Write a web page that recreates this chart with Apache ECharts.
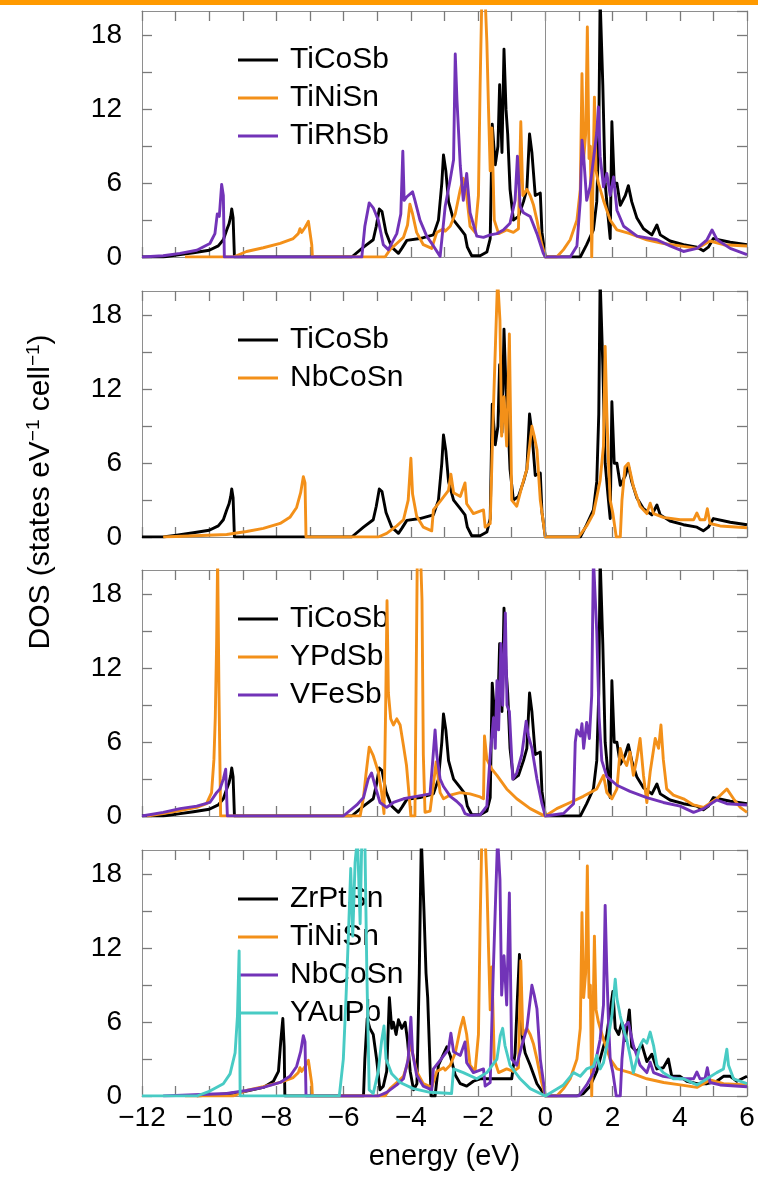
<!DOCTYPE html>
<html><head><meta charset="utf-8">
<script src="https://cdn.jsdelivr.net/npm/echarts@6/dist/echarts.min.js"></script>
<style>html,body{margin:0;padding:0;background:#fff;}#c{width:758px;height:1181px;}</style>
</head><body><div id="c"></div>
<script>
// ---- data: [energy (eV), DOS] ----
const TiCoSb = [[-12,0],[-11.37,0],[-10.97,0.15],[-10.47,0.35],[-10.0,0.55],[-9.73,0.9],[-9.58,1.4],[-9.48,2.2],[-9.41,2.7],[-9.36,3.3],[-9.33,3.9],[-9.29,3.2],[-9.25,0],[-5.76,0],[-5.41,0.8],[-5.12,1.4],[-5.03,2.5],[-4.94,3.9],[-4.86,3.7],[-4.74,2.0],[-4.57,0.8],[-4.37,0.3],[-4.27,0.7],[-4.12,1.35],[-3.73,1.5],[-3.33,1.8],[-3.18,3.0],[-3.08,6.0],[-3.03,8.3],[-2.96,7.0],[-2.88,4.5],[-2.73,3.0],[-2.53,2.3],[-2.39,1.8],[-2.32,0.8],[-2.19,0.1],[-1.94,0.1],[-1.74,0.4],[-1.64,1.5],[-1.58,10.8],[-1.49,7.5],[-1.41,9.0],[-1.36,14],[-1.29,8.5],[-1.23,16.9],[-1.17,12],[-1.12,10],[-1.05,5.5],[-0.95,3.0],[-0.80,3.3],[-0.65,4.5],[-0.55,5.5],[-0.47,10.0],[-0.40,8.5],[-0.30,5.0],[-0.15,5.2],[-0.10,2.0],[0,0],[1.04,0],[1.23,1.0],[1.43,2.2],[1.53,4.5],[1.59,10],[1.63,21],[1.67,21],[1.71,14],[1.78,6],[1.86,3.5],[1.93,1.5],[1.98,11.0],[2.05,6.0],[2.13,6.0],[2.23,4.2],[2.38,5.0],[2.47,5.8],[2.57,4.5],[2.72,3.2],[2.92,2.3],[3.17,1.8],[3.32,2.6],[3.42,1.8],[3.71,1.3],[4.11,1.0],[4.51,0.8],[4.70,0.5],[4.85,0.8],[5.0,1.5],[5.5,1.2],[6.0,1.0]];
const TiNiSn = [[-10.72,0],[-9.28,0],[-8.89,0.45],[-8.39,0.75],[-7.89,1.1],[-7.5,1.5],[-7.35,1.9],[-7.30,2.3],[-7.25,2.0],[-7.15,2.4],[-7.05,2.9],[-7.0,3.0],[-6.95,1.0],[-6.93,0],[-4.77,0],[-4.62,0.6],[-4.42,1.1],[-4.22,1.6],[-4.10,2.6],[-4.03,4.3],[-3.95,3.5],[-3.83,2.0],[-3.63,1.0],[-3.38,0.7],[-3.23,2.0],[-3.03,2.3],[-2.98,2.1],[-2.83,2.5],[-2.68,3.5],[-2.53,5.5],[-2.44,6.4],[-2.34,5.0],[-2.24,2.5],[-2.09,2.0],[-1.99,5.0],[-1.94,14],[-1.89,21],[-1.79,21],[-1.74,17.5],[-1.69,12],[-1.64,7],[-1.59,10.5],[-1.52,3.0],[-1.39,1.9],[-1.15,2.2],[-0.95,2.0],[-0.80,2.3],[-0.73,11.0],[-0.67,5.0],[-0.55,5.5],[-0.45,5.0],[-0.35,4.2],[-0.25,3.0],[-0.12,1.2],[0,0],[0.34,0],[0.54,0.6],[0.74,1.4],[0.94,3.0],[1.04,5.5],[1.09,14.9],[1.14,8.0],[1.20,10],[1.25,18.7],[1.30,8],[1.34,9],[1.38,0],[1.43,0],[1.46,13],[1.51,7],[1.58,6],[1.73,4.6],[1.93,3.0],[2.13,2.2],[2.52,1.9],[3.02,1.4],[3.52,1.1],[4.01,0.9],[4.51,0.7],[4.9,1.3],[5.3,1.0],[6,0.9]];
const TiRhSb = [[-12,0],[-11.37,0.1],[-10.87,0.3],[-10.37,0.55],[-9.98,1.1],[-9.83,1.9],[-9.76,3.5],[-9.70,3.3],[-9.63,5.9],[-9.58,5.0],[-9.55,0],[-5.46,0],[-5.37,2.5],[-5.24,4.4],[-5.12,4.0],[-4.97,3.0],[-4.82,1.0],[-4.67,0.6],[-4.42,1.9],[-4.30,3.5],[-4.24,8.6],[-4.20,4.6],[-4.12,4.9],[-3.95,5.3],[-3.88,4.6],[-3.73,3.0],[-3.53,1.7],[-3.33,0.9],[-3.13,0.05],[-2.98,4.1],[-2.83,6.3],[-2.73,7.9],[-2.68,16.5],[-2.63,12.8],[-2.53,7.4],[-2.44,4.6],[-2.34,6.8],[-2.24,3.6],[-2.04,1.7],[-1.84,1.6],[-1.64,1.8],[-1.44,1.9],[-1.25,2.2],[-1.05,2.75],[-0.90,4.6],[-0.83,8.2],[-0.75,4.1],[-0.65,3.6],[-0.45,3.3],[-0.25,1.9],[-0.06,0.3],[0,0],[0.74,0],[0.94,0.9],[1.04,4.6],[1.09,9.5],[1.14,8.2],[1.23,4.6],[1.33,5.7],[1.43,7.9],[1.53,10.1],[1.58,12.2],[1.63,8.2],[1.73,5.7],[1.83,6.8],[1.93,5.0],[2.03,6.5],[2.13,3.8],[2.33,2.5],[2.73,1.7],[3.32,1.4],[3.71,0.9],[4.11,0.45],[4.51,0.7],[4.81,1.4],[4.96,2.2],[5.11,1.4],[5.5,0.7],[6,0.2]];
const NbCoSn = [[-11.37,0],[-9.48,0.2],[-8.89,0.45],[-8.39,0.7],[-7.89,1.1],[-7.6,1.6],[-7.4,2.4],[-7.28,3.6],[-7.2,4.9],[-7.15,4.4],[-7.12,0],[-4.97,0],[-4.72,0.3],[-4.42,0.9],[-4.22,1.4],[-4.08,3.0],[-4.0,6.4],[-3.95,3.5],[-3.83,1.7],[-3.63,0.8],[-3.38,0.5],[-3.33,2.2],[-3.13,2.9],[-2.88,3.8],[-2.81,5.1],[-2.73,3.6],[-2.53,3.3],[-2.39,4.4],[-2.34,2.7],[-2.14,1.9],[-1.84,2.2],[-1.79,0.8],[-1.64,1.1],[-1.55,10],[-1.48,16],[-1.42,21],[-1.35,17.6],[-1.30,8.2],[-1.23,11.4],[-1.15,7.4],[-1.07,16.5],[-1.0,3.0],[-0.85,2.5],[-0.70,4.1],[-0.55,5.5],[-0.40,9.0],[-0.33,8.2],[-0.25,7.1],[-0.15,3.0],[0,0],[0.99,0],[1.23,0.9],[1.43,1.9],[1.63,4.6],[1.73,7.4],[1.78,15.5],[1.83,10.1],[1.88,6.0],[1.93,3.0],[2.01,1.9],[2.11,0],[2.23,0],[2.28,3.0],[2.37,5.7],[2.47,6.0],[2.62,4.1],[2.82,2.5],[3.02,1.9],[3.12,2.75],[3.22,1.9],[3.51,1.6],[4.01,1.4],[4.41,1.4],[4.51,1.95],[4.6,1.4],[4.75,1.4],[4.82,2.3],[4.9,1.1],[5.2,0.9],[6,0.75]];
const YPdSb = [[-11.86,0],[-11.37,0.2],[-10.87,0.45],[-10.37,0.7],[-10.08,1.0],[-9.93,1.9],[-9.86,4.6],[-9.82,8],[-9.78,14],[-9.75,21],[-9.71,10],[-9.66,0],[-5.51,0],[-5.41,1.5],[-5.34,3.3],[-5.24,5.6],[-5.12,4.9],[-4.97,3.6],[-4.87,1.9],[-4.80,0.2],[-4.75,9],[-4.71,17.5],[-4.67,10],[-4.60,7.9],[-4.52,7.4],[-4.42,7.9],[-4.32,7.4],[-4.22,5.7],[-4.13,4.1],[-4.0,0],[-3.88,0],[-3.81,21],[-3.71,21],[-3.67,17.6],[-3.63,5],[-3.58,0.3],[-3.43,0.4],[-3.31,3.0],[-3.25,4.4],[-3.13,1.9],[-3.03,1.4],[-2.83,1.7],[-2.54,1.9],[-2.24,1.8],[-1.94,1.55],[-1.84,1.4],[-1.81,6.5],[-1.74,4.6],[-1.59,3.8],[-1.44,3.3],[-1.15,2.2],[-0.85,1.4],[-0.45,0.6],[-0.06,0.05],[0,0],[0.34,0.6],[0.74,1.1],[1.13,1.6],[1.53,2.2],[1.73,3.3],[1.83,1.9],[1.98,1.4],[2.13,2.2],[2.23,5.5],[2.32,4.6],[2.42,4.1],[2.52,5.2],[2.62,3.3],[2.72,4.6],[2.82,6.3],[2.92,3.3],[3.02,1.1],[3.12,3.6],[3.27,6.3],[3.37,5.5],[3.44,7.4],[3.51,4.6],[3.61,2.2],[3.81,1.7],[4.11,1.4],[4.41,0.9],[4.71,0.7],[5.1,1.4],[5.4,2.2],[5.6,1.4],[5.8,0.7],[6,0.3]];
const VFeSb = [[-12,0],[-11.37,0.3],[-10.87,0.6],[-10.37,0.8],[-9.98,1.1],[-9.78,1.9],[-9.68,2.2],[-9.58,3.0],[-9.51,3.8],[-9.46,0],[-6.01,0],[-5.61,0.9],[-5.41,1.5],[-5.27,3.0],[-5.17,3.5],[-5.07,2.5],[-4.92,1.1],[-4.72,0.7],[-4.52,1.1],[-4.22,1.4],[-3.83,1.6],[-3.43,1.8],[-3.35,4.5],[-3.28,7.0],[-3.23,5.0],[-3.13,3.0],[-3.03,2.4],[-2.83,1.6],[-2.64,1.2],[-2.49,0.8],[-2.39,0.2],[-2.24,0.05],[-1.94,0.1],[-1.74,0.8],[-1.64,5],[-1.54,8],[-1.49,5.5],[-1.44,11],[-1.39,7],[-1.32,14],[-1.27,9],[-1.19,16.5],[-1.14,9],[-1.07,8.5],[-0.97,3.0],[-0.85,3.5],[-0.70,5.0],[-0.57,7.7],[-0.50,6.5],[-0.40,5.5],[-0.25,3.0],[-0.10,1.0],[0,0],[0.54,0.2],[0.84,1.0],[0.89,6.0],[0.94,7.0],[1.04,6.5],[1.09,7.5],[1.14,5.5],[1.23,7.6],[1.31,6.3],[1.38,9.8],[1.43,21],[1.48,21],[1.53,15],[1.60,8],[1.68,4.5],[1.83,3.2],[2.13,2.5],[2.52,2.0],[3.02,1.5],[3.51,1.1],[4.01,0.8],[4.41,0.3],[4.71,0.6],[5.1,1.3],[5.4,1.0],[6,0.9]];
const ZrPtSn = [[-10.37,0],[-10.1,0.05],[-9.78,0.1],[-9.38,0.2],[-8.89,0.4],[-8.39,0.7],[-8.09,1.2],[-7.94,2.0],[-7.87,4.5],[-7.81,6.3],[-7.77,4.0],[-7.75,0],[-5.41,0],[-5.37,3.0],[-5.30,6.3],[-5.22,5.5],[-5.12,5.0],[-5.02,3.0],[-4.92,0.5],[-4.82,0.8],[-4.72,2.0],[-4.64,8.0],[-4.57,5.5],[-4.52,6.0],[-4.44,5.0],[-4.37,6.2],[-4.27,5.5],[-4.17,6.0],[-4.10,4.5],[-4.02,2.0],[-3.92,0.5],[-3.82,1.0],[-3.75,10],[-3.69,21],[-3.65,21],[-3.61,15],[-3.55,10],[-3.50,8],[-3.45,4],[-3.40,0],[-3.28,0],[-3.18,2.5],[-3.03,3.4],[-2.93,4.0],[-2.83,3.3],[-2.68,1.7],[-2.53,1.0],[-2.34,0.8],[-2.14,1.2],[-1.94,1.4],[-1.44,1.4],[-1.0,1.4],[-0.90,3.5],[-0.83,8.0],[-0.77,11.5],[-0.70,5.0],[-0.60,3.5],[-0.45,2.5],[-0.25,1.0],[0,0],[0.94,0],[1.13,0.2],[1.33,0.8],[1.53,2.0],[1.68,3.5],[1.83,5.0],[2.01,8.5],[2.08,5.5],[2.18,5.0],[2.28,6.0],[2.38,4.5],[2.5,7.0],[2.57,4.0],[2.72,3.6],[2.87,4.2],[3.02,2.8],[3.17,3.4],[3.32,2.2],[3.51,2.3],[3.66,3.0],[3.76,1.6],[4.01,1.6],[4.21,1.2],[4.51,1.0],[4.81,1.0],[5.1,1.2],[5.3,1.6],[5.5,1.6],[5.7,1.2],[6,1.6]];
const YAuPb = [[-12,0],[-10.37,0],[-9.98,0.4],[-9.58,1.0],[-9.38,1.8],[-9.23,3.5],[-9.16,6.5],[-9.11,11.8],[-9.08,0],[-6.13,0],[-6.01,3.0],[-5.93,8],[-5.86,13],[-5.79,18.5],[-5.73,13],[-5.66,19],[-5.59,21],[-5.51,14],[-5.46,21],[-5.37,21],[-5.31,10],[-5.24,0.5],[-5.12,0.2],[-4.97,2.0],[-4.87,4.5],[-4.80,5.7],[-4.74,3.0],[-4.57,1.8],[-4.32,1.1],[-3.93,0.6],[-3.43,0.3],[-2.79,0.2],[-2.73,2.2],[-2.44,1.9],[-2.04,1.4],[-1.74,1.9],[-1.44,3.0],[-1.34,4.9],[-1.27,5.5],[-1.20,4.1],[-1.05,2.5],[-0.75,1.4],[-0.45,0.6],[0,0],[0.54,0.9],[0.84,1.9],[1.04,1.6],[1.23,2.2],[1.43,2.4],[1.53,3.3],[1.63,2.2],[1.73,2.7],[1.83,4.1],[1.98,6.5],[2.08,9.5],[2.13,7.9],[2.23,6.5],[2.33,5.4],[2.42,4.6],[2.52,3.3],[2.62,1.9],[2.72,3.0],[2.82,4.1],[2.92,4.6],[3.02,4.3],[3.12,5.2],[3.22,4.1],[3.32,2.5],[3.51,1.9],[3.81,1.4],[4.11,1.4],[4.51,0.9],[4.81,1.4],[5.1,1.9],[5.3,2.2],[5.4,3.8],[5.45,2.5],[5.6,1.4],[6,1.0]];

const panelNames = [
  ['TiCoSb','TiNiSn','TiRhSb'],
  ['TiCoSb','NbCoSn'],
  ['TiCoSb','YPdSb','VFeSb'],
  ['ZrPtSn','TiNiSn','NbCoSn','YAuPb']
];
const panelData = [
  [TiCoSb, TiNiSn, TiRhSb],
  [TiCoSb, NbCoSn],
  [TiCoSb, YPdSb, VFeSb],
  [ZrPtSn, TiNiSn, NbCoSn, YAuPb]
];
const xRange = [-12, 6];
const yRange = [0, 20];
const yLabelStep = 6;
const xLabelStep = 2;
const xTitle = 'energy (eV)';

// ---- styles / layout ----
const BLACK = '#000000', ORANGE = '#f39019', PURPLE = '#7233b8', CYAN = '#48cbc4';
const panelColors = [
  [BLACK, ORANGE, PURPLE],
  [BLACK, ORANGE],
  [BLACK, ORANGE, PURPLE],
  [BLACK, ORANGE, PURPLE, CYAN]
];
const FRAME = '#8e8e8e';
const TICK = '#7a7a7a';
const FONT = '"Liberation Sans", Arial, Helvetica, sans-serif';
const gridTops = [11, 291, 570, 850];
const GRID_LEFT = 142, GRID_W = 605, GRID_H = 246;

function fmtX(v) {
  if (Math.round(v) % xLabelStep !== 0) return '';
  return v < 0 ? '\u2212' + (-v) : String(v);
}

const option = {
  animation: false,
  backgroundColor: '#ffffff',
  grid: [], xAxis: [], yAxis: [], series: [], legend: [],
  graphic: [
    { type: 'rect', silent: true, shape: { x: 0, y: 0, width: 758, height: 5 }, style: { fill: '#ff9a00' } },
    { type: 'text', silent: true, x: 41, y: 492, rotation: Math.PI / 2,
      style: { text: 'DOS (states eV{sup|\u22121} cell{sup|\u22121})', fill: '#000', font: '30px ' + FONT,
        align: 'center', verticalAlign: 'middle', lineHeight: 34,
        rich: { sup: { fontSize: 19, fontFamily: FONT, fill: '#000', verticalAlign: 'top', lineHeight: 34 } } } }
  ]
};

panelData.forEach((series, i) => {
  const top = gridTops[i];
  const isLast = i === panelData.length - 1;
  option.grid.push({ left: GRID_LEFT, top: top, width: GRID_W, height: GRID_H });
  const axisLine = { show: true, onZero: false, lineStyle: { color: FRAME, width: 1 } };
  const axisTick = { show: true, inside: true, length: 10, interval: 0, lineStyle: { color: TICK, width: 1.3 } };
  const xBase = { type: 'value', gridIndex: i, min: xRange[0], max: xRange[1], interval: 1,
    axisLine, axisTick, splitLine: { show: false } };
  option.xAxis.push(Object.assign({}, xBase, {
    position: 'bottom',
    axisLabel: { show: isLast, margin: 8, fontSize: 28, color: '#000', fontFamily: FONT, formatter: fmtX },
    name: isLast ? xTitle : '', nameLocation: 'middle', nameGap: 46,
    nameTextStyle: { fontSize: 29, color: '#000', fontFamily: FONT }
  }));
  option.xAxis.push(Object.assign({}, xBase, { position: 'top', axisLabel: { show: false } }));
  const yBase = { type: 'value', gridIndex: i, min: yRange[0], max: yRange[1], interval: 3,
    axisLine, axisTick, splitLine: { show: false } };
  option.yAxis.push(Object.assign({}, yBase, {
    position: 'left',
    axisLabel: { show: true, margin: 20, fontSize: 28, color: '#000', fontFamily: FONT, showMaxLabel: false,
      formatter: v => (v % yLabelStep === 0 && v < yRange[1]) ? String(v) : '' }
  }));
  option.yAxis.push(Object.assign({}, yBase, { position: 'right', axisLabel: { show: false } }));

  series.forEach((d, k) => {
    const s = {
      type: 'line', name: panelNames[i][k], xAxisIndex: 2 * i, yAxisIndex: 2 * i,
      data: d, symbol: 'none', showSymbol: false, clip: true, z: 2 + k,
      lineStyle: { color: panelColors[i][k], width: 2.9, join: 'round' },
      itemStyle: { color: panelColors[i][k] },
      emphasis: { disabled: true }
    };
    if (k === 0) {
      s.markLine = { silent: true, symbol: ['none', 'none'], label: { show: false },
        lineStyle: { color: FRAME, width: 1, type: 'solid' }, emphasis: { disabled: true },
        data: [{ xAxis: 0 }], animation: false };
    }
    option.series.push(s);
  });

  option.legend.push({
    show: true, orient: 'vertical', left: 238, top: top + 30, padding: 0, itemGap: 0,
    itemWidth: 40, itemHeight: 3, icon: 'rect', selectedMode: false, z: 1,
    textStyle: { fontSize: 30, color: '#000', fontFamily: FONT, lineHeight: 38, padding: [0, 0, 0, 7] },
    data: panelNames[i].map((n, k) => ({ name: n, itemStyle: { color: panelColors[i][k] } }))
  });
});

const chart = echarts.init(document.getElementById('c'), null, { renderer: 'canvas', width: 758, height: 1181 });
chart.setOption(option);
</script>
</body></html>
